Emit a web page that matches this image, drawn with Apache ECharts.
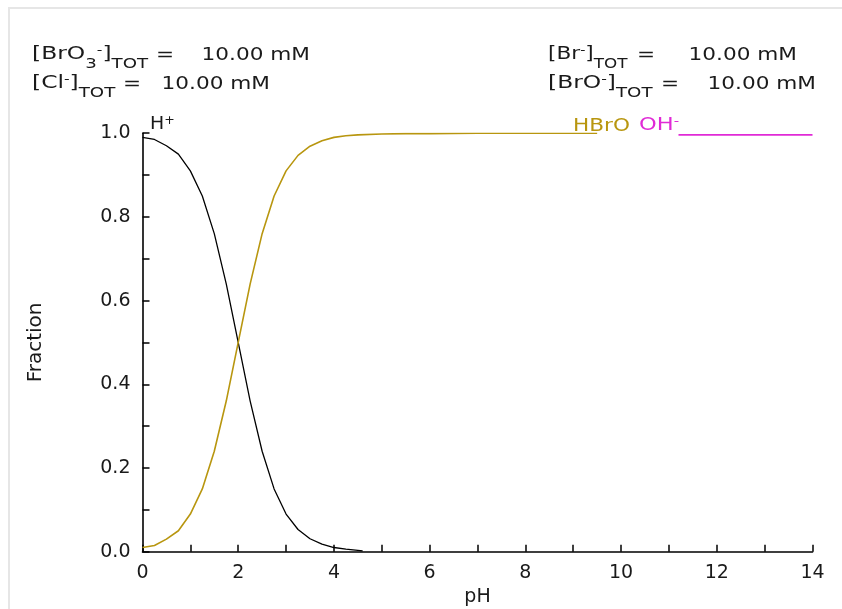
<!DOCTYPE html>
<html>
<head>
<meta charset="utf-8">
<script src="https://cdn.jsdelivr.net/npm/echarts@6/dist/echarts.min.js"></script>
<style>
  html, body { margin: 0; padding: 0; background: #fff; }
  #main { width: 842px; height: 609px; }
</style>
</head>
<body>
<div id="main"></div>
<script>
// fractions
const phH = [0, 0.25, 0.5, 0.75, 1.0, 1.25, 1.5, 1.75, 2.0, 2.25, 2.5, 2.75, 3.0, 3.25, 3.5, 3.75, 4.0, 4.25, 4.6]
const fracH = [0.99, 0.985, 0.97, 0.95, 0.91, 0.85, 0.76, 0.64, 0.5, 0.36, 0.24, 0.15, 0.09, 0.053, 0.031, 0.018, 0.01, 0.006, 0.002]
const phHBrO = [0, 0.25, 0.5, 0.75, 1.0, 1.25, 1.5, 1.75, 2.0, 2.25, 2.5, 2.75, 3.0, 3.25, 3.5, 3.75, 4.0, 4.25, 4.5, 5.0, 5.5, 6.0, 7.0, 8.0, 9.5]
const fracHBrO = [0.01, 0.015, 0.03, 0.05, 0.09, 0.15, 0.24, 0.36, 0.5, 0.64, 0.76, 0.85, 0.91, 0.947, 0.969, 0.982, 0.99, 0.994, 0.996, 0.998, 0.999, 0.999, 1.0, 1.0, 1.0]
const phOH = [11.2, 14]
const fracOH = [0.996, 0.996]
const xTickLabels = { 0: '0', 2: '2', 4: '4', 6: '6', 8: '8', 10: '10', 12: '12', 14: '14' }
const yTickLabels = { 0: '0.0', 2: '0.2', 4: '0.4', 6: '0.6', 8: '0.8', 10: '1.0' }

const pairs = (xs, ys) => xs.map((x, i) => [x, ys[i]])

const font = 'DejaVu Sans'
const ink = '#1a1a1a'
const yellow = '#b8960f'
const magenta = '#e02ad6'

function richFor(fill) {
  return {
    b: { fontSize: 18, lineHeight: 20, verticalAlign: 'top', fontFamily: font, fill: fill },
    sub: { fontSize: 14, lineHeight: 14, padding: [12, 0, 0, 0], verticalAlign: 'top', fontFamily: font, fill: fill },
    sup: { fontSize: 12, lineHeight: 10, verticalAlign: 'top', fontFamily: font, fill: fill }
  }
}
// rich label, top-left anchored
function richText(x, y, str, fill, sx) {
  return { type: 'text', x: x, y: y, scaleX: sx, style: { text: str, rich: richFor(fill), verticalAlign: 'top' } }
}
// plain label, middle anchored
function plainText(x, y, str, align, sx) {
  return {
    type: 'text', x: x, y: y, scaleX: sx,
    style: { text: str, fontSize: 18, fontFamily: font, fill: ink, align: align, verticalAlign: 'middle' }
  }
}

const myChart = echarts.init(document.getElementById('main'))
const option = {
  backgroundColor: '#fff',
  animation: false,
  textStyle: { fontFamily: font },
  grid: { left: 142.5, right: 29.5, top: 133.2, bottom: 57.3, outerBoundsMode: 'none', containLabel: false },
  xAxis: {
    type: 'value',
    min: 0,
    max: 14,
    interval: 1,
    name: 'pH',
    nameLocation: 'middle',
    nameGap: 36,
    nameTextStyle: { fontSize: 19, color: ink },
    splitLine: { show: false },
    axisLine: { lineStyle: { color: '#000', width: 1.6 } },
    axisTick: { inside: true, length: 7, lineStyle: { color: '#000', width: 1.5 } },
    axisLabel: {
      fontSize: 19,
      color: ink,
      margin: 12,
      formatter: v => xTickLabels[Math.round(v)] || ''
    }
  },
  yAxis: {
    type: 'value',
    min: 0,
    max: 1,
    interval: 0.1,
    name: 'Fraction',
    nameLocation: 'middle',
    nameGap: 97,
    nameTextStyle: { fontSize: 20, color: ink },
    splitLine: { show: false },
    axisLine: { show: true, lineStyle: { color: '#000', width: 1.6 } },
    axisTick: { inside: true, length: 7, lineStyle: { color: '#000', width: 1.5 } },
    axisLabel: {
      fontSize: 19,
      color: ink,
      margin: 12,
      formatter: v => yTickLabels[Math.round(v * 10)] || ''
    }
  },
  series: [
    {
      name: 'H+',
      type: 'line',
      showSymbol: false,
      data: pairs(phH, fracH),
      lineStyle: { color: '#000', width: 1.3 }
    },
    {
      name: 'HBrO',
      type: 'line',
      showSymbol: false,
      data: pairs(phHBrO, fracHBrO),
      lineStyle: { color: yellow, width: 1.6 }
    },
    {
      name: 'OH-',
      type: 'line',
      showSymbol: false,
      data: pairs(phOH, fracOH),
      lineStyle: { color: magenta, width: 1.6 }
    }
  ],
  graphic: [
    { type: 'rect', shape: { x: 9, y: 8, width: 850, height: 620 }, style: { fill: null, stroke: '#e6e6e6', lineWidth: 2 } },
    // totals, upper left
    richText(32, 45, '{b|[BrO}{sub|3}{sup|-}{b|]}{sub|TOT}', ink, 1.3),
    plainText(165, 55, '=', 'center', 1.2),
    plainText(310, 55, '10.00 mM', 'right', 1.2),
    richText(32, 74, '{b|[Cl}{sup|-}{b|]}{sub|TOT}', ink, 1.3),
    plainText(132, 84, '=', 'center', 1.2),
    plainText(270, 84, '10.00 mM', 'right', 1.2),
    // totals, upper right
    richText(548, 45, '{b|[Br}{sup|-}{b|]}{sub|TOT}', ink, 1.2),
    plainText(646, 55, '=', 'center', 1.2),
    plainText(797, 55, '10.00 mM', 'right', 1.2),
    richText(548, 74, '{b|[BrO}{sup|-}{b|]}{sub|TOT}', ink, 1.3),
    plainText(670, 84, '=', 'center', 1.2),
    plainText(816, 84, '10.00 mM', 'right', 1.2),
    // curve names
    richText(150, 115, '{b|H}{sup|+}', ink, 1.05),
    {
      type: 'text', x: 573, y: 126, scaleX: 1.2,
      style: { text: 'HBrO', fontSize: 18, fontFamily: font, fill: yellow, verticalAlign: 'middle' }
    },
    richText(639, 116, '{b|OH}{sup|-}', magenta, 1.25)
  ]
}
myChart.setOption(option)
</script>
</body>
</html>
